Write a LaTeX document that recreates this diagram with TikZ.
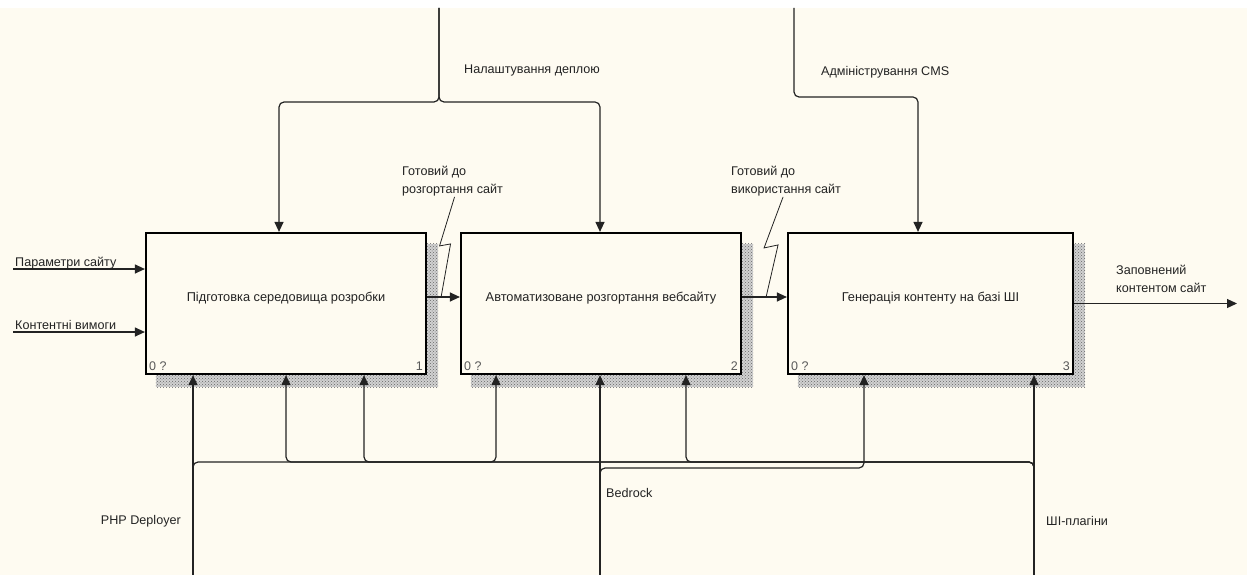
\documentclass[tikz,border=0pt]{standalone}
\usepackage{fontspec}
\setmainfont{Liberation Sans}
\usetikzlibrary{positioning, arrows.meta, patterns, backgrounds, calc}
\definecolor{idefbg}{RGB}{254,251,241}
\definecolor{idefink}{RGB}{35,35,35}
\tikzset{
  fblk/.style={draw=black, fill=idefbg, line width=2.2pt, minimum height=141pt,
               inner sep=0pt, text height=9pt, text depth=12.5pt,
               font=\fontsize{12.8}{15}\selectfont, text=idefink},
  fshd/.style={fill=black!18, postaction={pattern=crosshatch dots, pattern color=black!60}},
  flbl/.style={font=\fontsize{12.6}{17.5}\selectfont, text=idefink, inner sep=1pt, align=left},
  fnum/.style={font=\fontsize{12.5}{13}\selectfont, text=black!65, inner sep=2pt},
  farr/.style={-{Triangle[length=10pt,width=9pt]}, line width=1.2pt, draw=idefink, rounded corners=5pt},
  flead/.style={line width=0.8pt, draw=idefink},
}

\begin{document}
\begin{tikzpicture}[x=1pt, y=-1pt]
  \useasboundingbox (0,0) rectangle (1247,575);
  % функціональні блоки
  \node[fblk, minimum width=280pt](b1) at (286,303.5) {Підготовка середовища розробки};
  \node[fblk, minimum width=280pt](b2) at (601,303.5) {Автоматизоване розгортання вебсайту};
  \node[fblk, minimum width=285pt](b3) at (930.5,303.5) {Генерація контенту на базі ШІ};
  \foreach \b/\k in {b1/1, b2/2, b3/3}{
    \node[fnum, anchor=south west](z\k) at ([shift={(2pt,2pt)}]\b.south west) {0 ?};
    \node[fnum, anchor=south east](n\k) at ([shift={(-2pt,2pt)}]\b.south east) {\k};
  }
  \begin{scope}[on background layer]
    \fill[white] (0,0) rectangle (1247,575);
    \fill[idefbg] (0,8) rectangle (1247,575);
    \foreach \b in {b1, b2, b3}
      \path[fshd] ([shift={(11pt,-12pt)}]\b.south west) rectangle ([shift={(11pt,-12pt)}]\b.north east);
  \end{scope}

  % входи
  \coordinate (sPar) at (13,269);
  \coordinate (sCnt) at (13,332);
  \draw[farr] (sPar) -- (sPar -| b1.west);
  \draw[farr] (sCnt) -- (sCnt -| b1.west);
  \node[flbl, anchor=base west](lPar) at (14,266) {Параметри сайту};
  \node[flbl, anchor=base west](lCnt) at (14,329) {Контентні вимоги};

  % виходи
  \draw[farr] ([yshift=6.5pt]b1.east) -- ([yshift=6.5pt]b2.west);
  \draw[farr] ([yshift=6.5pt]b2.east) -- ([yshift=6.5pt]b3.west);
  \coordinate (sOut) at (1237,303.5);
  \draw[farr] (b3.east) -- (sOut);
  \node[flbl, anchor=west](lRdy1) at (401,181) {Готовий до\\розгортання сайт};
  \node[flbl, anchor=west](lRdy2) at (730,181) {Готовий до\\використання сайт};
  \node[flbl, anchor=west](lOut) at (1115,279) {Заповнений\\контентом сайт};
  \draw[flead] ([xshift=2pt]lRdy1.south) -- ++(-15,49) -- ++(11,-2) -- ([shift={(14pt,6.5pt)}]b1.east);
  \draw[flead] ([xshift=-3pt]lRdy2.south) -- ++(-19,51) -- ++(14,-3) -- ([shift={(24pt,6.5pt)}]b2.east);

  % керування
  \coordinate (sDepl) at (439,8);
  \coordinate (cDepl) at (439,102);
  \coordinate (sCMS) at (794,8);
  \draw[farr] (sDepl) -- (cDepl) -| ([xshift=-7pt]b1.north);
  \draw[farr] (sDepl) -- (cDepl) -| ([xshift=-1pt]b2.north);
  \draw[farr] (sCMS) -- ++(0,89) -| ([xshift=-12.5pt]b3.north);
  \node[flbl, anchor=west](lDepl) at (463,70) {Налаштування деплою};
  \node[flbl, anchor=west](lCMS) at (820,72) {Адміністрування CMS};

  % механізми
  \coordinate (sPHP) at (193,575);
  \coordinate (sBed) at (600,575);
  \coordinate (sAI) at (1034,575);
  \coordinate (busA) at (0,462);
  \coordinate (busB) at (0,468);
  \draw[farr] (sPHP) -- ([xshift=-93pt]b1.south);
  \draw[farr] (sPHP) -- (sPHP |- busA) -| ([xshift=-105pt]b2.south);
  \draw[farr] (sBed) -- ([xshift=-1pt]b2.south);
  \draw[farr] (sBed) -- (sBed |- busB) -| ([xshift=-66.5pt]b3.south);
  \draw[farr] (sAI) -- ([xshift=103.5pt]b3.south);
  \draw[farr] (sAI) -- (sAI |- busA) -| ([xshift=85pt]b2.south);
  \draw[farr] (sAI) -- (sAI |- busA) -| ([xshift=78pt]b1.south);
  \draw[farr] (sAI) -- (sAI |- busA) -| (b1.south);
  \node[flbl, anchor=east](lPHP) at (182,521) {PHP Deployer};
  \node[flbl, anchor=west](lBed) at (605,493) {Bedrock};
  \node[flbl, anchor=west](lAI) at (1045,521) {ШІ-плагіни};
\end{tikzpicture}
\end{document}
